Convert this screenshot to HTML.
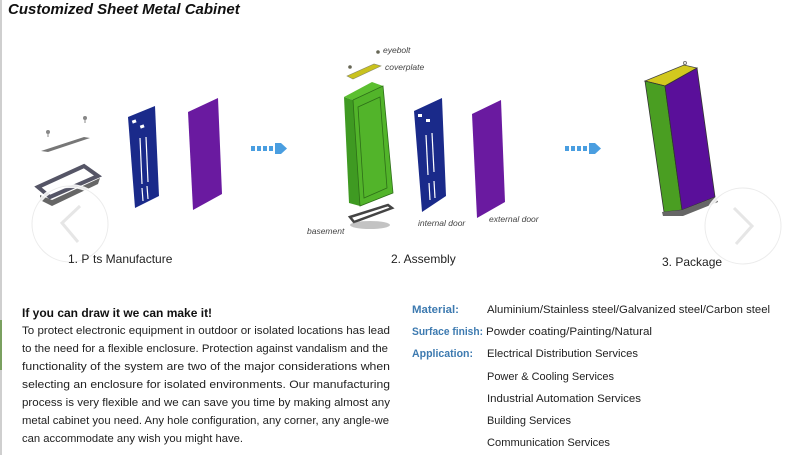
<!DOCTYPE html>
<html><head><meta charset="utf-8"><style>
html,body{margin:0;padding:0;background:#fff;}
svg{display:block;}
</style></head><body>
<svg width="787" height="455" viewBox="0 0 787 455" xmlns="http://www.w3.org/2000/svg" font-family="'Liberation Sans', sans-serif">
<rect width="787" height="455" fill="#fff"/>
<rect x="0" y="0" width="2" height="455" fill="#cfcfcf"/>
<rect x="0" y="320" width="2" height="50" fill="#7aa060"/>
<text x="8" y="14" font-size="15" font-weight="bold" font-style="italic" fill="#111">Customized Sheet Metal Cabinet</text>

<!-- Parts manufacture -->
<g>
  <circle cx="48" cy="132" r="2" fill="#888"/><line x1="48" y1="134" x2="48" y2="137" stroke="#888"/>
  <circle cx="85" cy="118" r="2" fill="#888"/><line x1="85" y1="120" x2="85" y2="123" stroke="#888"/>
  <polygon points="41,151 84,137 90,138 48,152" fill="#777"/>
  <polygon points="38,187 84,166 98,176 50,197" fill="none" stroke="#556" stroke-width="4"/>
  <polygon points="40,195 52,200 100,178 98,184 52,206 40,200" fill="#666"/>
  <polygon points="128,117 155,106 159,196 135,208" fill="#1a2a8a"/>
  <rect x="132" y="120" width="4" height="3" fill="#fff" transform="rotate(-20 134 121)"/>
  <rect x="140" y="125" width="4" height="3" fill="#fff" transform="rotate(-20 142 126)"/>
  <line x1="140" y1="138" x2="142" y2="184" stroke="#fff" stroke-width="1.2"/>
  <line x1="146" y1="137" x2="148" y2="182" stroke="#fff" stroke-width="1.2"/>
  <line x1="142" y1="188" x2="143" y2="201" stroke="#fff" stroke-width="1.2"/>
  <line x1="147" y1="186" x2="148" y2="199" stroke="#fff" stroke-width="1.2"/>
  <polygon points="188,112 218,98 222,194 193,210" fill="#6a1aa0"/>
</g>
<g fill="#4a9ee0">
  <rect x="251" y="146" width="4" height="5"/><rect x="257" y="146" width="4" height="5"/><rect x="263" y="146" width="4" height="5"/><rect x="269" y="146" width="4" height="5"/>
  <polygon points="275,143 281,143 287,148.5 281,154 275,154"/>
</g>
<circle cx="70" cy="224" r="38" fill="none" stroke="#fff" stroke-width="4" opacity="0.9"/>
<circle cx="70" cy="224" r="38" fill="none" stroke="#ddd" stroke-width="1" opacity="0.6"/>
<polyline points="80,206 62,223 78,242" fill="none" stroke="#e6e6e6" stroke-width="3"/>
<text x="68" y="263" font-size="12" fill="#222">1. P</text><text x="93" y="263" font-size="12" fill="#222">ts Manufacture</text>

<!-- Assembly -->
<g>
  <circle cx="378" cy="52" r="1.8" fill="#665"/>
  <text x="383" y="53" font-size="8.5" font-style="italic" fill="#444">eyebolt</text>
  <circle cx="350" cy="67" r="1.8" fill="#665"/>
  <polygon points="347,76 374,64 381,66 353,79" fill="#c9c21e" stroke="#886" stroke-width="0.6"/>
  <text x="385" y="70" font-size="8.5" font-style="italic" fill="#444">coverplate</text>
  <polygon points="344,97 372,82 383,86 353,100" fill="#5cbf30"/>
  <polygon points="344,97 353,100 360,206 349,203" fill="#3f9a22"/>
  <polygon points="353,100 383,86 393,193 360,206" fill="#52b42a" stroke="#2d6e18" stroke-width="0.8"/>
  <polygon points="358,107 380,97 387,188 364,198" fill="none" stroke="#2d6e18" stroke-width="0.8"/>
  <polygon points="350,217 388,205 392,208 354,222" fill="none" stroke="#444" stroke-width="2.5"/>
  <ellipse cx="370" cy="225" rx="20" ry="4" fill="#888" opacity="0.5"/>
  <text x="307" y="234" font-size="8.5" font-style="italic" fill="#444">basement</text>
  <polygon points="414,111 442,98 446,196 422,212" fill="#1a2a8a"/>
  <rect x="418" y="114" width="4" height="3" fill="#fff"/>
  <rect x="426" y="119" width="4" height="3" fill="#fff"/>
  <line x1="426" y1="135" x2="428" y2="175" stroke="#fff" stroke-width="1.2"/>
  <line x1="432" y1="133" x2="434" y2="172" stroke="#fff" stroke-width="1.2"/>
  <line x1="429" y1="183" x2="430" y2="200" stroke="#fff" stroke-width="1.2"/>
  <line x1="434" y1="181" x2="435" y2="198" stroke="#fff" stroke-width="1.2"/>
  <text x="418" y="226" font-size="8.5" font-style="italic" fill="#444">internal door</text>
  <polygon points="472,114 501,100 505,202 477,218" fill="#6a1aa0"/>
  <text x="489" y="222" font-size="8.5" font-style="italic" fill="#444">external door</text>
</g>
<g fill="#4a9ee0">
  <rect x="565" y="146" width="4" height="5"/><rect x="571" y="146" width="4" height="5"/><rect x="577" y="146" width="4" height="5"/><rect x="583" y="146" width="4" height="5"/>
  <polygon points="589,143 595,143 601,148.5 595,154 589,154"/>
</g>
<text x="391" y="263" font-size="12" fill="#222">2. Assembly</text>

<!-- Package -->
<g>
  <circle cx="685" cy="63" r="1.5" fill="none" stroke="#777"/>
  <polygon points="645,81 684,65 697,68 665,86" fill="#d2c81e" stroke="#444" stroke-width="0.8"/>
  <polygon points="645,81 665,86 682,210 664,212" fill="#4a9e22" stroke="#333" stroke-width="0.8"/>
  <polygon points="665,86 697,68 715,197 682,210" fill="#5a0f9a" stroke="#333" stroke-width="0.8"/>
  <polygon points="662,212 682,210 716,197 718,202 683,216 663,216" fill="#666"/>
</g>
<circle cx="743" cy="226" r="38" fill="none" stroke="#fff" stroke-width="4" opacity="0.9"/>
<circle cx="743" cy="226" r="38" fill="none" stroke="#ddd" stroke-width="1" opacity="0.6"/>
<polyline points="734,208 752,226 736,244" fill="none" stroke="#e6e6e6" stroke-width="3"/>
<text x="662" y="266" font-size="12" fill="#222">3. Package</text>

<!-- Left text -->
<text x="22" y="317" font-size="12" font-weight="bold" fill="#111">If you can draw it we can make it!</text>
<g font-size="11.3" fill="#222">
<text x="22" y="334" textLength="368" lengthAdjust="spacingAndGlyphs">To protect electronic equipment in outdoor or isolated locations has lead</text>
<text x="22" y="352" textLength="366" lengthAdjust="spacingAndGlyphs">to the need for a flexible enclosure. Protection against vandalism and the</text>
<text x="22" y="370" textLength="368" lengthAdjust="spacingAndGlyphs">functionality of the system are two of the major considerations when</text>
<text x="22" y="388" textLength="368" lengthAdjust="spacingAndGlyphs">selecting an enclosure for isolated environments. Our manufacturing</text>
<text x="22" y="406" textLength="368" lengthAdjust="spacingAndGlyphs">process is very flexible and we can save you time by making almost any</text>
<text x="22" y="424" textLength="367" lengthAdjust="spacingAndGlyphs">metal cabinet you need. Any hole configuration, any corner, any angle-we</text>
<text x="22" y="442" textLength="221" lengthAdjust="spacingAndGlyphs">can accommodate any wish you might have.</text>
</g>

<!-- Right text -->
<g font-size="11.3" font-weight="bold" fill="#3d7ab0">
<text x="412" y="313" textLength="47" lengthAdjust="spacingAndGlyphs">Material:</text>
<text x="412" y="335" textLength="71" lengthAdjust="spacingAndGlyphs">Surface finish:</text>
<text x="412" y="357" textLength="61" lengthAdjust="spacingAndGlyphs">Application:</text>
</g>
<g font-size="11.3" fill="#222">
<text x="487" y="313" textLength="283" lengthAdjust="spacingAndGlyphs">Aluminium/Stainless steel/Galvanized steel/Carbon steel</text>
<text x="486" y="335" textLength="166" lengthAdjust="spacingAndGlyphs">Powder coating/Painting/Natural</text>
<text x="487" y="357" textLength="151" lengthAdjust="spacingAndGlyphs">Electrical Distribution Services</text>
<text x="487" y="380" textLength="127" lengthAdjust="spacingAndGlyphs">Power &amp; Cooling Services</text>
<text x="487" y="402" textLength="154" lengthAdjust="spacingAndGlyphs">Industrial Automation Services</text>
<text x="487" y="424" textLength="84" lengthAdjust="spacingAndGlyphs">Building Services</text>
<text x="487" y="446" textLength="123" lengthAdjust="spacingAndGlyphs">Communication Services</text>
</g>
</svg>
</body></html>
